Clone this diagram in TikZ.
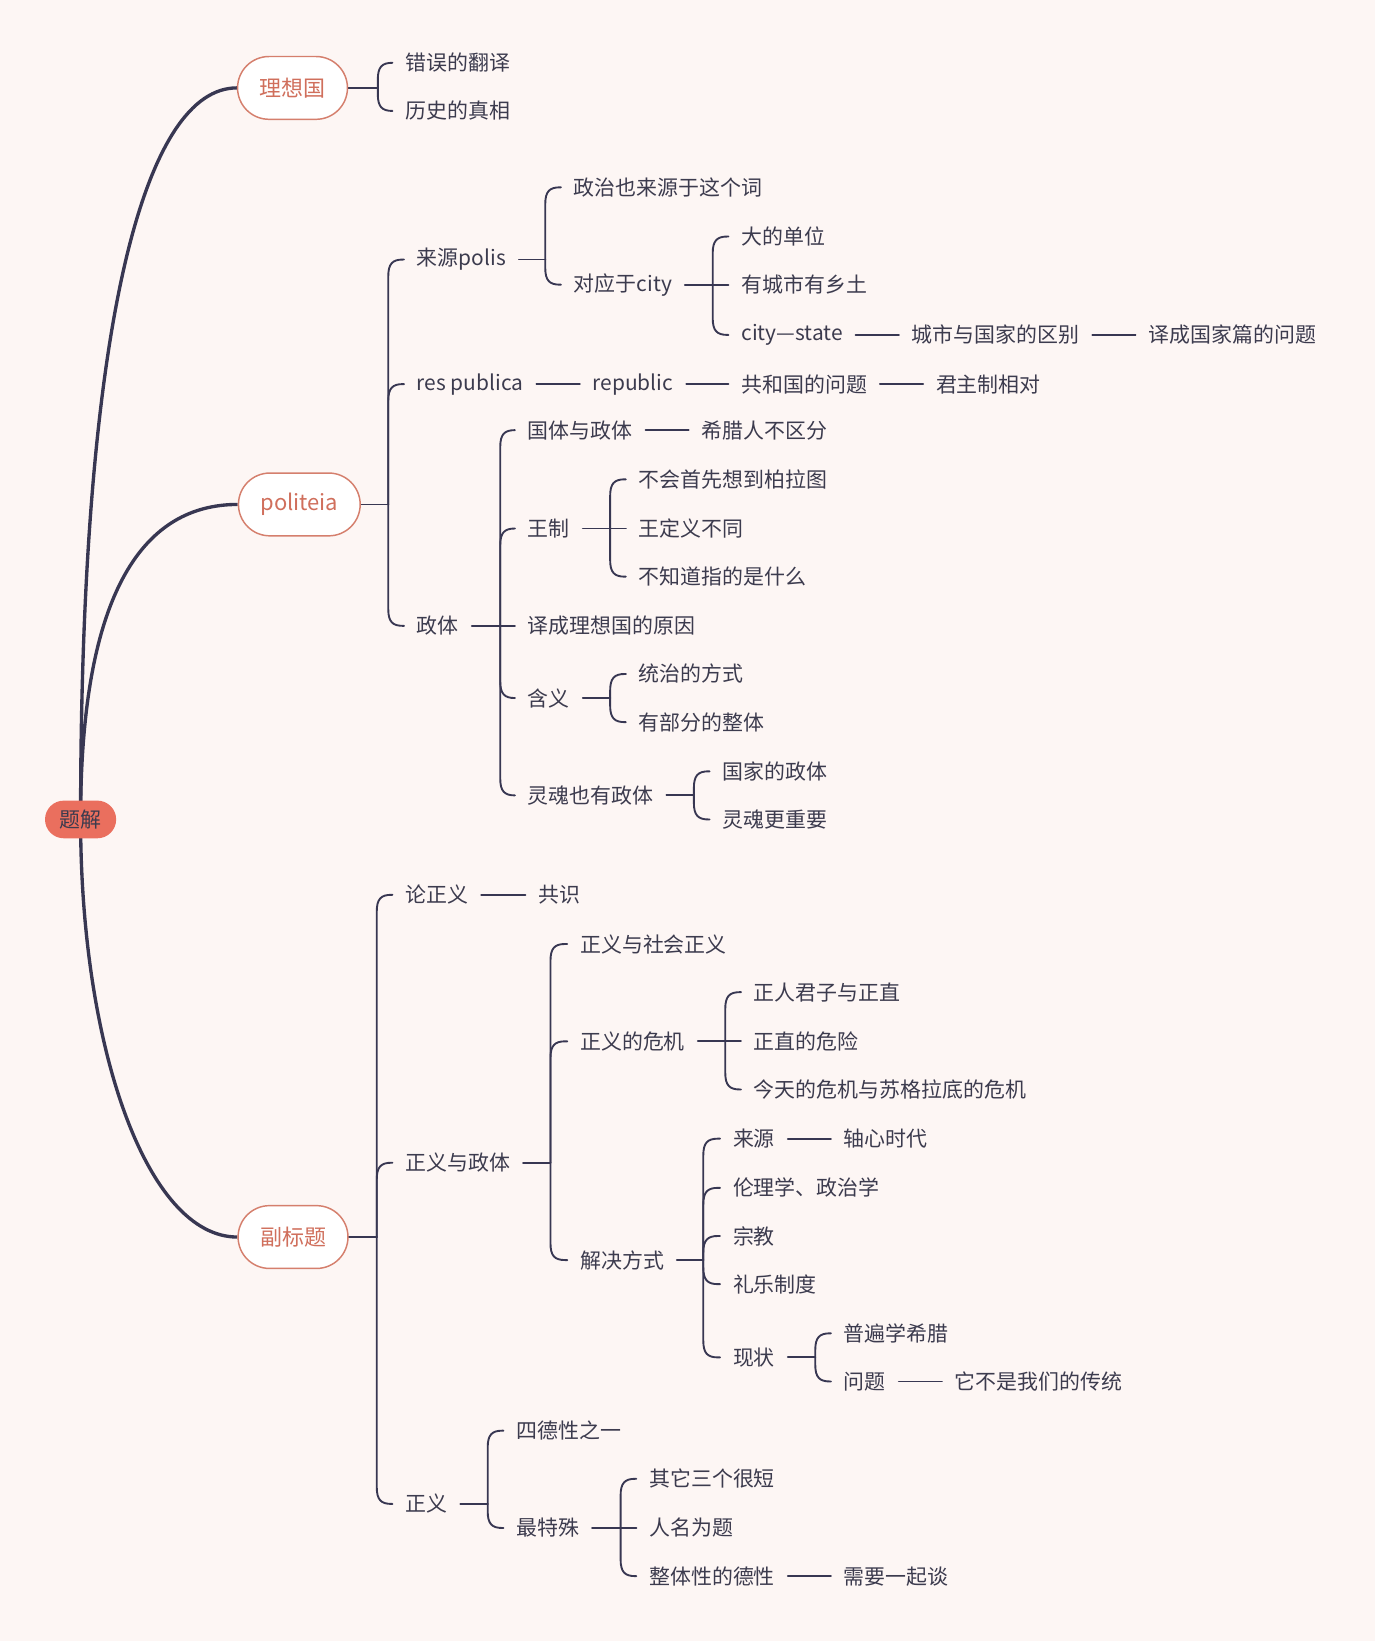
\documentclass[tikz,border=0pt]{standalone}
\usepackage{fontspec}
\setmainfont{Noto Sans CJK SC}
\usetikzlibrary{calc}
\definecolor{bgc}{HTML}{FDF6F4}
\definecolor{linec}{HTML}{383752}
\definecolor{txtc}{HTML}{3C3B4E}
\definecolor{pillc}{HTML}{D57F6D}
\definecolor{pilltxt}{HTML}{D06F5C}
\definecolor{rootc}{HTML}{EA6F5E}
\pgfdeclarelayer{bglayer}
\pgfdeclarelayer{linelayer}
\pgfsetlayers{bglayer,linelayer,main}
\newcommand\brc[2]{\draw[conn] let \p1=(#2.west), \p2=(#1), \n1={((\y1-\y2)>1)-((\y1-\y2)<-1)} in (\p1) -- ({\x2+7pt},\y1) .. controls ({\x2+2pt},\y1) and (\x2,{\y1-(\n1)*2pt}) .. (\x2,{\y1-(\n1)*8pt}) -- (\p2);}
\tikzset{
  conn/.style={draw=linec, line width=0.9pt, line cap=round},
  mainconn/.style={draw=linec, line width=1.6pt},
  txt/.style={anchor=west, inner xsep=6pt, inner ysep=2pt, text=txtc, font=\fontsize{10}{12}\selectfont},
  pill/.style={draw=pillc, fill=white, line width=0.7pt, rounded corners=15pt, minimum height=30pt, inner xsep=10.5pt, text=pilltxt, font=\fontsize{10.5}{12}\selectfont},
  rootn/.style={fill=rootc, rounded corners=9pt, minimum height=18pt, inner xsep=7pt, text=txtc, font=\fontsize{10}{12}\selectfont},
}
\begin{document}
\begin{tikzpicture}[x=0.5pt, y=-0.5pt]
\useasboundingbox (0,0) rectangle (1314,1568);
\begin{pgfonlayer}{bglayer}
\fill[bgc] (0,0) rectangle (1314,1568);
\end{pgfonlayer}
% level 1
\node[rootn] (root) at (77,783) {题解};
\node[pill] (lxg) at (279.5,84) {理想国};
\node[pill] (pol) at (286,482) {politeia};
\node[pill] (fbt) at (280,1182) {副标题};
% 理想国
\coordinate (J1) at (361,84);
\node[txt] (a1) at (375,60) {错误的翻译};
\node[txt] (a2) at (375,106) {历史的真相};
% politeia
\coordinate (J2) at (371,482);
\node[txt] (b1) at (386,248) {来源polis};
\node[txt] (b2) at (386,367) {res publica};
\node[txt] (b3) at (386,598) {政体};
\coordinate (J3) at (521,248);
\node[txt] (b11) at (536,179) {政治也来源于这个词};
\node[txt] (b12) at (536,272) {对应于city};
\coordinate (J4) at (681,272);
\node[txt] (b121) at (696,226) {大的单位};
\node[txt] (b122) at (696,272) {有城市有乡土};
\node[txt] (b123) at (696,320) {city—state};
\node[txt] (b124) at (859,320) {城市与国家的区别};
\node[txt] (b125) at (1085,320) {译成国家篇的问题};
\node[txt] (b21) at (554,367) {republic};
\node[txt] (b22) at (696,367) {共和国的问题};
\node[txt] (b23) at (882,367) {君主制相对};
\coordinate (J5) at (478,598);
\node[txt] (c1) at (492,411) {国体与政体};
\node[txt] (c1a) at (658,411) {希腊人不区分};
\node[txt] (c2) at (492,505) {王制};
\node[txt] (c3) at (492,598) {译成理想国的原因};
\node[txt] (c4) at (492,667) {含义};
\node[txt] (c5) at (492,760) {灵魂也有政体};
\coordinate (J6) at (583,505);
\node[txt] (c21) at (598,458) {不会首先想到柏拉图};
\node[txt] (c22) at (598,505) {王定义不同};
\node[txt] (c23) at (598,551) {不知道指的是什么};
\coordinate (J7) at (583,667);
\node[txt] (c41) at (598,644) {统治的方式};
\node[txt] (c42) at (598,690) {有部分的整体};
\coordinate (J8) at (663,760);
\node[txt] (c51) at (678,737) {国家的政体};
\node[txt] (c52) at (678,783) {灵魂更重要};
% 副标题
\coordinate (J9) at (360,1182);
\node[txt] (d1) at (375,855) {论正义};
\node[txt] (d1a) at (502,855) {共识};
\node[txt] (d2) at (375,1111) {正义与政体};
\node[txt] (d3) at (375,1437) {正义};
\coordinate (J10) at (526,1111);
\node[txt] (e1) at (542,902) {正义与社会正义};
\node[txt] (e2) at (542,995) {正义的危机};
\node[txt] (e3) at (542,1204) {解决方式};
\coordinate (J11) at (693,995);
\node[txt] (e21) at (708,948) {正人君子与正直};
\node[txt] (e22) at (708,995) {正直的危险};
\node[txt] (e23) at (708,1041) {今天的危机与苏格拉底的危机};
\coordinate (J12) at (672,1204);
\node[txt] (f1) at (688,1088) {来源};
\node[txt] (f1a) at (794,1088) {轴心时代};
\node[txt] (f2) at (688,1135) {伦理学、政治学};
\node[txt] (f3) at (688,1181) {宗教};
\node[txt] (f4) at (688,1227) {礼乐制度};
\node[txt] (f5) at (688,1297) {现状};
\coordinate (J13) at (779,1297);
\node[txt] (f51) at (794,1274) {普遍学希腊};
\node[txt] (f52) at (794,1320) {问题};
\node[txt] (f52a) at (900,1320) {它不是我们的传统};
\coordinate (J14) at (466,1437);
\node[txt] (g1) at (481,1367) {四德性之一};
\node[txt] (g2) at (481,1460) {最特殊};
\coordinate (J15) at (593,1460);
\node[txt] (g21) at (608,1413) {其它三个很短};
\node[txt] (g22) at (608,1460) {人名为题};
\node[txt] (g23) at (608,1506) {整体性的德性};
\node[txt] (g23a) at (794,1506) {需要一起谈};

\begin{pgfonlayer}{linelayer}
% root curves
\draw[mainconn] (root.center) .. controls (77,300) and (140,84) .. (lxg.west);
\draw[mainconn] (root.center) .. controls (77,560) and (140,482) .. (pol.west);
\draw[mainconn] (root.center) .. controls (77,1000) and (140,1182) .. (fbt.west);
% parent lines
\foreach \p/\j in {lxg/J1, pol/J2, b1/J3, b12/J4, b3/J5, c2/J6, c4/J7, c5/J8, fbt/J9, d2/J10, e2/J11, e3/J12, f5/J13, d3/J14, g2/J15}
  \draw[conn] (\p.east) -- (\j);
% braces
\foreach \j/\c in {J1/a1, J1/a2, J2/b1, J2/b2, J2/b3, J3/b11, J3/b12, J4/b121, J4/b122, J4/b123,
  J5/c1, J5/c2, J5/c3, J5/c4, J5/c5, J6/c21, J6/c22, J6/c23, J7/c41, J7/c42, J8/c51, J8/c52,
  J9/d1, J9/d2, J9/d3, J10/e1, J10/e2, J10/e3, J11/e21, J11/e22, J11/e23,
  J12/f1, J12/f2, J12/f3, J12/f4, J12/f5, J13/f51, J13/f52, J14/g1, J14/g2, J15/g21, J15/g22, J15/g23}
  {\brc{\j}{\c}}
% chains
\foreach \a/\b in {b123/b124, b124/b125, b2/b21, b21/b22, b22/b23, c1/c1a, d1/d1a, f1/f1a, f52/f52a, g23/g23a}
  \draw[conn] (\a.east) -- (\b.west);
\end{pgfonlayer}
\end{tikzpicture}
\end{document}
